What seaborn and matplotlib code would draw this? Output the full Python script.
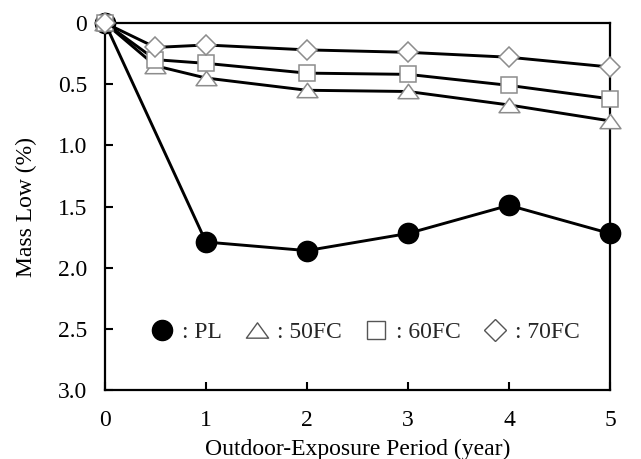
import matplotlib
matplotlib.use("Agg")
import matplotlib.pyplot as plt
from matplotlib.lines import Line2D
from matplotlib.path import Path
import seaborn as sns
import pandas as pd

# Mass loss (%) over outdoor exposure period (years)
years_pl = [0, 1, 2, 3, 4, 5]
loss_pl = [0.0, 1.79, 1.86, 1.72, 1.49, 1.72]

years_fc = [0, 0.5, 1, 2, 3, 4, 5]
loss_50fc = [0.0, 0.35, 0.45, 0.55, 0.56, 0.67, 0.80]
loss_60fc = [0.0, 0.30, 0.33, 0.41, 0.42, 0.51, 0.62]
loss_70fc = [0.0, 0.20, 0.18, 0.22, 0.24, 0.28, 0.36]

x_ticks = [0, 1, 2, 3, 4, 5]
y_ticks = [0, 0.5, 1.0, 1.5, 2.0, 2.5, 3.0]
y_tick_labels = ["0", "0.5", "1.0", "1.5", "2.0", "2.5", "3.0"]

sns.set_theme(style="white")
plt.rcParams["font.family"] = ["Liberation Serif", "DejaVu Serif"]

FS = 17

fig = plt.figure(figsize=(6.41, 4.59), dpi=100)
ax = fig.add_axes([0.1638, 0.150, 0.7878, 0.800])

edge_gray = "#8c8c8c"
# wide open triangle
tri = Path([(-1.0, -0.69), (1.0, -0.69), (0.0, 0.69), (-1.0, -0.69)],
           [Path.MOVETO, Path.LINETO, Path.LINETO, Path.CLOSEPOLY])

series = [
    ("PL", years_pl, loss_pl, "o", 14.5, "black", "black"),
    ("50FC", years_fc, loss_50fc, tri, 15, "white", edge_gray),
    ("60FC", years_fc, loss_60fc, "s", 12, "white", edge_gray),
    ("70FC", years_fc, loss_70fc, "D", 10, "white", edge_gray),
]

for name, xs, ys, mk, ms, fc, ec in series:
    df = pd.DataFrame({"year": xs, "loss": ys})
    sns.lineplot(data=df, x="year", y="loss", ax=ax, color="black",
                 linewidth=2.1, marker=mk, markersize=ms,
                 markerfacecolor=fc, markeredgecolor=ec,
                 markeredgewidth=1.1, clip_on=False, zorder=3)

ax.set_xlim(0, 5)
ax.set_ylim(3.0, 0)
ax.set_xticks(x_ticks)
ax.set_xticklabels([str(t) for t in x_ticks])
ax.set_yticks(y_ticks)
ax.set_yticklabels(y_tick_labels)

ax.tick_params(axis="both", which="major", direction="in", length=6,
               width=1.5, color="black", labelsize=FS, labelcolor="black",
               bottom=True, left=True, top=False, right=False)
ax.tick_params(axis="x", pad=14)
ax.tick_params(axis="y", pad=13)
for s in ax.spines.values():
    s.set_color("black")
    s.set_linewidth(1.6)
    s.set_visible(True)

ax.set_xlabel("Outdoor-Exposure Period (year)", fontsize=FS, color="black",
              labelpad=6)
ax.set_ylabel("Mass Low (%)", fontsize=FS, color="black", labelpad=15)
ax.grid(False)

leg_sizes = {"PL": 14.5, "50FC": 16, "60FC": 13, "70FC": 11}
handles = []
labels = []
for name, xs, ys, mk, ms, fc, ec in series:
    handles.append(Line2D([], [], linestyle="none", marker=mk,
                          markersize=leg_sizes[name], markerfacecolor=fc,
                          markeredgecolor=ec if fc == "black" else "#555555",
                          markeredgewidth=1.0))
    labels.append(": " + name)

leg = ax.legend(handles, labels, loc="center", bbox_to_anchor=(0.515, 0.157),
                ncol=4, frameon=False, fontsize=FS, handlelength=1.0,
                handletextpad=0.35, columnspacing=0.95)

fig.savefig("out.png", dpi=100, facecolor="white")
